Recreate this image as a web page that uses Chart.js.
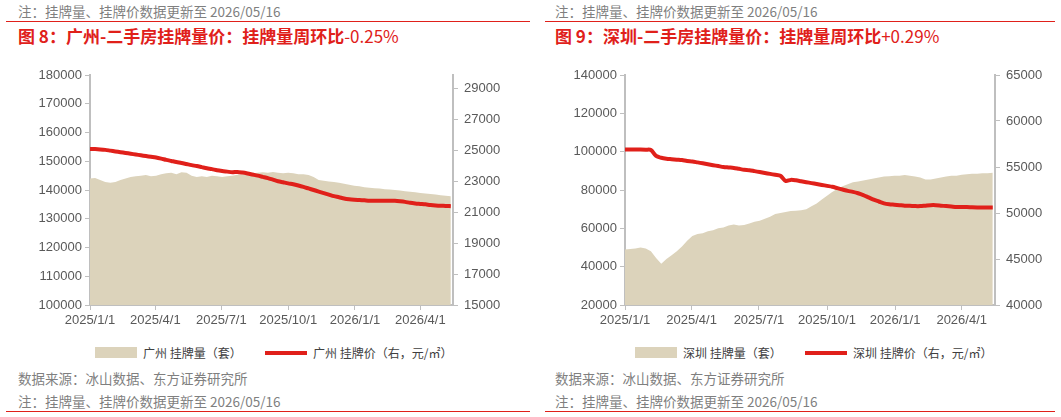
<!DOCTYPE html>
<html><head><meta charset="utf-8">
<script src="https://cdn.jsdelivr.net/npm/chart.js@4"></script>
<style>
body{margin:0;width:1061px;height:417px;background:#fff;font-family:"Noto Sans CJK SC","Liberation Sans",sans-serif;position:relative;overflow:hidden}
.t{position:absolute;white-space:nowrap}
.note{color:#7f7f7f;font-size:13.5px}
.title{color:#e0201a;font-size:17px;font-weight:bold}
.rule{position:absolute;height:1px;background:#e0201a}
.leg{position:absolute;font-size:12px;color:#404040;display:flex;align-items:center;white-space:nowrap}
.sw{display:inline-block;width:42px;height:11px;background:#dcd3bb;margin-right:6px}
.ln{display:inline-block;width:42px;height:4px;background:#e0201a;margin-right:6px}
canvas{position:absolute}
</style></head><body>
<div class="t note" style="left:18px;top:1px">注：挂牌量、挂牌价数据更新至 2026/05/16</div>
<div class="rule" style="left:6px;top:21px;width:524px"></div>
<div class="t title" style="left:18px;top:23px">图 8：广州-二手房挂牌量价：挂牌量周环比<span style="font-weight:normal">-0.25%</span></div>
<div class="t note" style="left:555px;top:1px">注：挂牌量、挂牌价数据更新至 2026/05/16</div>
<div class="rule" style="left:545px;top:21px;width:510px"></div>
<div class="t title" style="left:555px;top:23px">图 9：深圳-二手房挂牌量价：挂牌量周环比<span style="font-weight:normal">+0.29%</span></div>
<div style="position:absolute;left:0;top:60px;width:530px;height:270px"><canvas id="c1"></canvas></div>
<div style="position:absolute;left:530px;top:60px;width:531px;height:270px"><canvas id="c2"></canvas></div>
<div class="leg" style="left:95px;top:344px"><span class="sw"></span>广州 挂牌量（套）</div>
<div class="leg" style="left:265px;top:344px"><span class="ln"></span>广州 挂牌价（右，元/㎡）</div>
<div class="leg" style="left:635px;top:344px"><span class="sw"></span>深圳 挂牌量（套）</div>
<div class="leg" style="left:805px;top:344px"><span class="ln"></span>深圳 挂牌价（右，元/㎡）</div>
<div class="t note" style="left:18px;top:368px">数据来源：冰山数据、东方证券研究所</div>
<div class="t note" style="left:18px;top:391px">注：挂牌量、挂牌价数据更新至 2026/05/16</div>
<div class="rule" style="left:6px;top:411px;width:524px"></div>
<div class="t note" style="left:555px;top:368px">数据来源：冰山数据、东方证券研究所</div>
<div class="t note" style="left:555px;top:391px">注：挂牌量、挂牌价数据更新至 2026/05/16</div>
<div class="rule" style="left:545px;top:411px;width:510px"></div>
<script>
const tickLabels=["2025/1/1","2025/4/1","2025/7/1","2025/10/1","2026/1/1","2026/4/1"];
const tickDays=[0,90,181,273,365,455];
const gzListings=[144000,144200,143500,142800,142500,142800,143500,144000,144500,144800,145000,145200,144800,145000,145500,145800,146000,145500,146200,146000,145000,144500,144800,144500,145000,144800,144500,144800,145000,145300,145500,145500,145800,146000,146200,146000,146300,146000,145800,146000,145800,145500,145500,145200,144500,143500,143200,143000,142800,142500,142200,141800,141500,141300,141000,140800,140600,140500,140300,140200,140000,139800,139600,139400,139200,139000,138800,138600,138400,138200,138000,137800];
const gzPrice=[25100,25100,25080,25050,25000,24950,24900,24850,24800,24750,24700,24650,24600,24550,24480,24400,24330,24260,24200,24130,24060,24000,23930,23860,23800,23730,23680,23640,23600,23620,23580,23520,23450,23380,23300,23220,23120,23020,22950,22880,22820,22740,22650,22550,22450,22350,22250,22150,22050,21980,21900,21850,21820,21800,21780,21760,21750,21750,21760,21760,21750,21720,21680,21620,21580,21550,21520,21480,21450,21430,21420,21400];
const szListings=[49000,49200,49500,50000,49500,48000,44500,41500,44000,46000,48000,50500,53500,56000,57000,57500,58500,59000,60000,60500,61500,62000,61500,61800,62500,63500,64000,65000,66000,67500,68000,68500,69000,69200,69500,70000,71500,73000,75000,77000,79000,80500,82000,83000,84000,84500,85000,85500,86000,86500,87000,87200,87500,87500,87800,87500,87000,86500,85500,85500,86000,86500,87000,87500,87500,88000,88200,88500,88500,88700,88800,89000];
const szPrice=[56900,56900,56900,56900,56880,56850,56200,56000,55900,55850,55800,55750,55650,55600,55500,55400,55300,55200,55100,55000,54950,54900,54800,54700,54650,54550,54450,54350,54250,54150,54050,53500,53600,53550,53450,53350,53250,53150,53050,52950,52850,52700,52550,52400,52300,52150,51950,51700,51450,51250,51050,50950,50900,50850,50800,50780,50750,50750,50800,50850,50850,50800,50750,50700,50650,50650,50650,50620,50600,50600,50600,50600];
const gzLeftTicks=[100000,110000,120000,130000,140000,150000,160000,170000,180000];
const gzRightTicks=[15000,17000,19000,21000,23000,25000,27000,29000];
const szLeftTicks=[20000,40000,60000,80000,100000,120000,140000];
const szRightTicks=[40000,45000,50000,55000,60000,65000];

const pts=a=>a.map((v,i)=>({x:i*7,y:v}));
const gray='#bfbfbf', tc='#595959', font={family:'"Liberation Sans",Arial,sans-serif',size:13};
function make(id,L,P,lt,rt,lMin,lMax,rMin,rMax,lw,rw){
  const tk={color:tc,font,padding:3,callback:v=>String(v)};
  const axisBase={grid:{drawOnChartArea:false,tickLength:5,color:gray},border:{color:gray,width:2}};
  new Chart(document.getElementById(id),{
    data:{datasets:[
      {type:'line',data:pts(P),yAxisID:'y1',borderColor:'#e0201a',borderWidth:4,pointRadius:0,tension:0.3,order:0},
      {type:'line',data:pts(L),yAxisID:'y',borderWidth:0,backgroundColor:'#dcd3bb',fill:'start',pointRadius:0,order:1}
    ]},
    options:{responsive:true,maintainAspectRatio:false,animation:false,
      layout:{padding:{top:15,bottom:0,left:0,right:0}},
      plugins:{legend:{display:false},tooltip:{enabled:false}},
      scales:{
        x:{type:'linear',min:0,max:500,...axisBase,
          afterBuildTicks:s=>{s.ticks=tickDays.map(v=>({value:v}))},
          ticks:{color:tc,font,padding:3,maxRotation:0,autoSkip:false,callback:(v)=>tickLabels[tickDays.indexOf(v)]},
          afterFit:s=>{s.height=25}},
        y:{position:'left',min:lMin,max:lMax,...axisBase,ticks:tk,
          afterBuildTicks:s=>{s.ticks=lt.map(v=>({value:v}))},
          afterFit:s=>{s.width=lw}},
        y1:{position:'right',min:rMin,max:rMax,...axisBase,ticks:{...tk,padding:6},
          afterBuildTicks:s=>{s.ticks=rt.map(v=>({value:v}))},
          afterFit:s=>{s.width=rw}}
      }}
  });
}
make('c1',gzListings,gzPrice,gzLeftTicks,gzRightTicks,100000,180000,15000,29900,90,77);
make('c2',szListings,szPrice,szLeftTicks,szRightTicks,20000,140000,40000,65000,95,66);
</script></body></html>
